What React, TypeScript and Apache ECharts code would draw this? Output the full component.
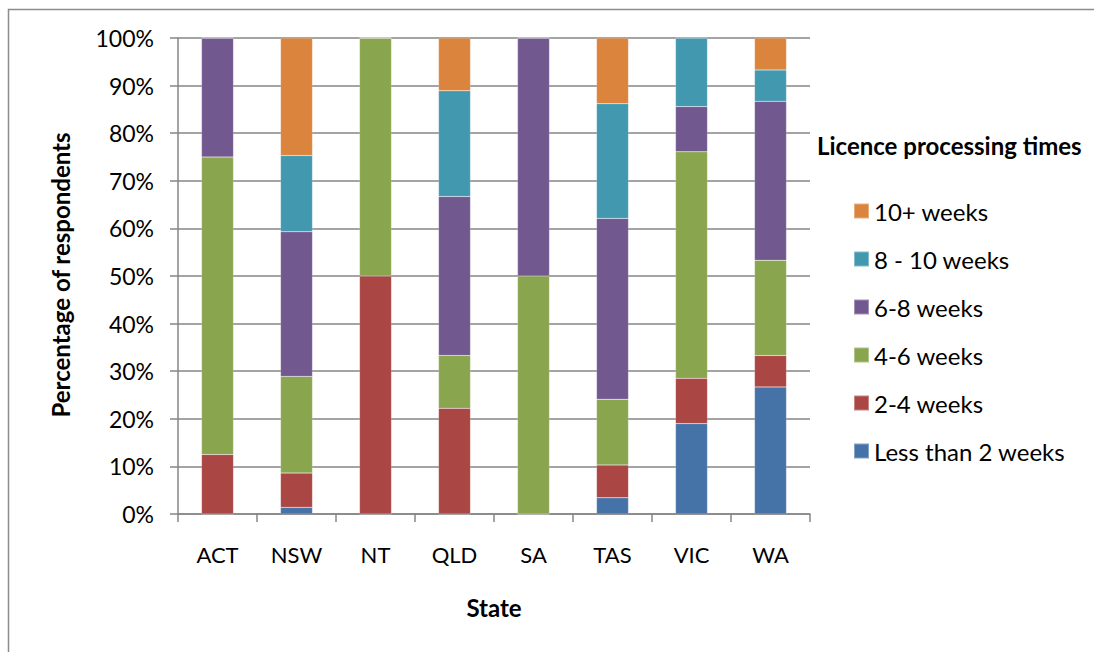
import React, { useEffect, useRef } from "react";
import * as echarts from "echarts";

const states = ["ACT", "NSW", "NT", "QLD", "SA", "TAS", "VIC", "WA"];
const seriesNames = ["Less than 2 weeks", "2-4 weeks", "4-6 weeks", "6-8 weeks", "8 - 10 weeks", "10+ weeks"];
const lessThan2 = [0, 1.4, 0, 0, 0, 3.4, 19.0, 26.7];
const w2to4 = [12.5, 7.2, 50, 22.2, 0, 6.9, 9.5, 6.6];
const w4to6 = [62.5, 20.3, 50, 11.1, 50, 13.8, 47.6, 20.0];
const w6to8 = [25, 30.4, 0, 33.4, 50, 38.0, 9.5, 33.4];
const w8to10 = [0, 16.0, 0, 22.2, 0, 24.1, 14.4, 6.6];
const w10plus = [0, 24.7, 0, 11.1, 0, 13.8, 0, 6.7];
const colors = ["#4572A7", "#AA4643", "#89A54E", "#71588F", "#4198AF", "#DB843D"];
const yTicks = [0, 10, 20, 30, 40, 50, 60, 70, 80, 90, 100];

const FONT = "Lato, 'Open Sans', sans-serif";

export default function App() {
  const ref = useRef<HTMLDivElement>(null);
  useEffect(() => {
    if (!ref.current) return;
    const chart = echarts.init(ref.current, null, { renderer: "svg" });
    const values = [lessThan2, w2to4, w4to6, w6to8, w8to10, w10plus];
    chart.setOption({
      animation: false,
      color: colors,
      textStyle: { fontFamily: FONT },
      grid: { left: 178, top: 38, width: 632, height: 476, containLabel: false },
      legend: {
        orient: "vertical",
        left: 853,
        top: 199,
        padding: 0,
        itemWidth: 15,
        itemHeight: 15,
        itemGap: 24,
        icon: "rect",
        data: [...seriesNames].reverse(),
        textStyle: { fontSize: 24, color: "#000", fontFamily: FONT, lineHeight: 24 },
      },
      xAxis: {
        type: "category",
        data: states,
        axisLine: { lineStyle: { color: "#868686", width: 1.5 } },
        axisTick: { show: true, length: 8, alignWithLabel: false, lineStyle: { color: "#868686", width: 1.5 } },
        axisLabel: { fontSize: 22, color: "#000", margin: 29, fontFamily: FONT },
      },
      yAxis: {
        type: "value",
        min: 0,
        max: 100,
        interval: 10,
        axisLine: { show: true, lineStyle: { color: "#868686", width: 1.5 } },
        axisTick: { show: true, length: 8, lineStyle: { color: "#868686", width: 1.5 } },
        splitLine: { lineStyle: { color: "#868686", width: 1.5 } },
        axisLabel: {
          fontSize: 23,
          color: "#000",
          margin: 24,
          fontFamily: FONT,
          customValues: yTicks,
          formatter: (v: number) => `${v}%`,
        },
      },
      graphic: [
        {
          type: "rect",
          shape: { x: 8.5, y: 9.5, width: 1200, height: 700 },
          style: { fill: "none", stroke: "#8c8c8c", lineWidth: 1.5 },
          silent: true,
          z: -10,
        },
        {
          type: "text",
          x: 817,
          y: 145,
          style: { text: "Licence processing times", fontSize: 24, fontWeight: "bold", fill: "#000", fontFamily: FONT, textVerticalAlign: "middle" },
        },
        {
          type: "text",
          x: 494,
          y: 607,
          style: { text: "State", fontSize: 24, fontWeight: "bold", fill: "#000", fontFamily: FONT, textAlign: "center", textVerticalAlign: "middle" },
        },
        {
          type: "text",
          x: 60,
          y: 275,
          rotation: Math.PI / 2,
          style: { text: "Percentage of respondents", fontSize: 24, fontWeight: "bold", fill: "#000", fontFamily: FONT, textAlign: "center", textVerticalAlign: "middle" },
        },
      ],
      series: seriesNames.map((name, i) => ({
        name,
        type: "bar",
        stack: "total",
        barWidth: 32,
        data: values[i],
        itemStyle: { color: colors[i], borderColor: "rgba(255,255,255,0.35)", borderWidth: 0.5 },
      })),
    });
    return () => chart.dispose();
  }, []);
  return <div ref={ref} style={{ position: "absolute", left: 0, top: 0, width: 1094, height: 652 }} />;
}
